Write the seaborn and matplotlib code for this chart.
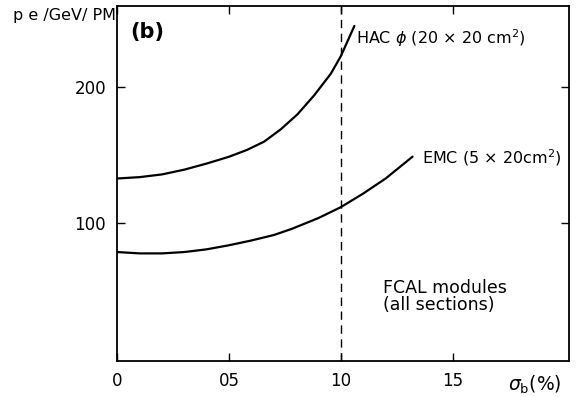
import matplotlib
matplotlib.use("Agg")
import matplotlib.pyplot as plt
import seaborn as sns
import pandas as pd

# Photoelectron yield vs. intrinsic beam spread for the two FCAL sections
hac_sigma = [0.0, 0.1, 0.2, 0.3, 0.4, 0.5, 0.58, 0.656, 0.73, 0.805, 0.88,
             0.955, 1.0, 1.06]
hac_pe = [133, 134, 136, 139.5, 144, 149, 154, 160, 169, 180, 194,
          210, 223, 245]

emc_sigma = [0.0, 0.1, 0.2, 0.3, 0.4, 0.5, 0.6, 0.7, 0.78, 0.9, 1.0, 1.1,
             1.2, 1.32]
emc_pe = [79, 78, 78, 79, 81, 84, 87.5, 91.5, 96, 104, 112, 122, 133, 149]

x_ticks = [0, 0.5, 1.0, 1.5]
x_tick_labels = ["0", "05", "10", "15"]
y_ticks = [100, 200]
y_tick_labels = ["100", "200"]
cut_sigma = 1.0

sns.set_style("ticks")
plt.rcParams["font.family"] = ["DejaVu Sans"]
plt.rcParams["text.color"] = "black"

hac = pd.DataFrame({"sigma": hac_sigma, "pe": hac_pe})
emc = pd.DataFrame({"sigma": emc_sigma, "pe": emc_pe})

fig = plt.figure(figsize=(5.78, 3.97), dpi=100)
ax = fig.add_axes([0.203, 0.0907, 0.7815, 0.8954])

sns.lineplot(data=hac, x="sigma", y="pe", ax=ax, color="black", lw=1.6)
sns.lineplot(data=emc, x="sigma", y="pe", ax=ax, color="black", lw=1.6)
ax.axvline(cut_sigma, color="black", lw=1.0, ls=(0, (6, 4)))

ax.set_xlim(0, 2.02)
ax.set_ylim(-1, 260)
ax.set_xticks(x_ticks)
ax.set_xticklabels(x_tick_labels)
ax.set_yticks(y_ticks)
ax.set_yticklabels(y_tick_labels)
ax.tick_params(direction="in", length=6, width=1.0, top=True, right=True,
               labelsize=12, colors="black", pad=8)
for s in ax.spines.values():
    s.set_linewidth(1.3)
    s.set_color("black")
ax.set_xlabel("")
ax.set_ylabel("")

fig.text(0.2007, 0.962, "p e /GeV/ PM", fontsize=11.5, ha="right", va="center")
fig.text(0.972, 0.03, r"$\sigma_{\rm b}$(%)", fontsize=13.5, ha="right", va="center")

ax.text(0.029, 0.925, "(b)", transform=ax.transAxes, fontsize=15,
        fontweight="bold", ha="left", va="center")
ax.text(1.067, 236, r"HAC $\phi$ (20 × 20 cm$^2$)", fontsize=11.5,
        ha="left", va="center")
ax.text(1.362, 148, r"EMC (5 × 20cm$^2$)", fontsize=11.5, ha="left", va="center")
ax.text(1.188, 46.5, "FCAL modules\n(all sections)", fontsize=12.5,
        ha="left", va="center", linespacing=0.9)

fig.savefig("out.png", dpi=100)
